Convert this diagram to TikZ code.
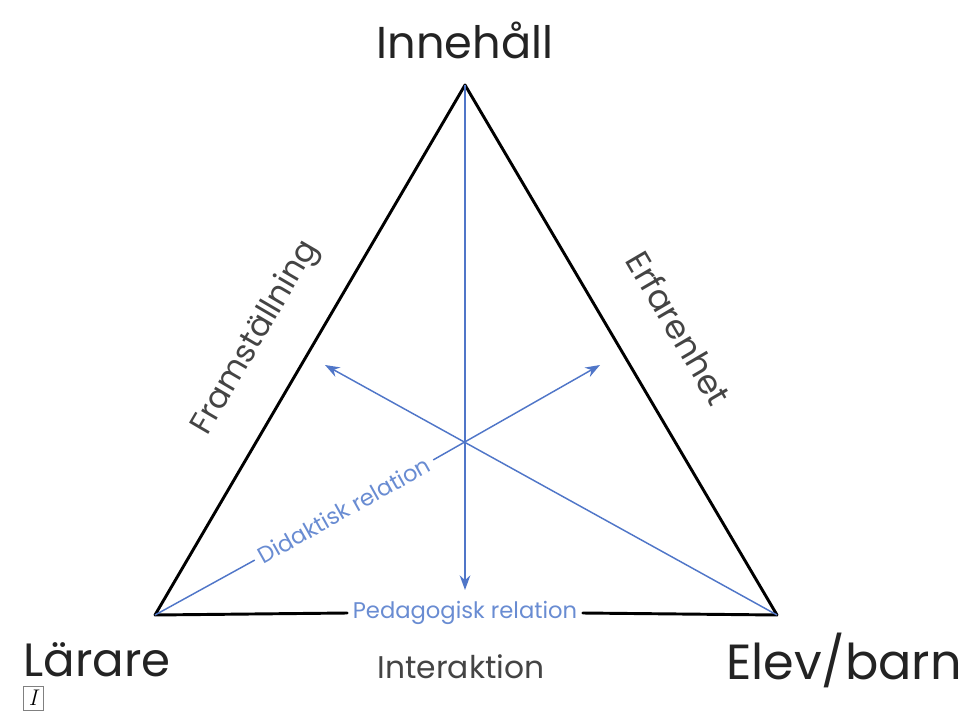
\documentclass[tikz,border=0pt]{standalone}
\usepackage{fontspec}
\setmainfont{Poppins}
\newfontfamily\lmfont{Latin Modern Roman}
\usetikzlibrary{arrows.meta}
\definecolor{relblue}{RGB}{80,118,200}
\definecolor{reltext}{RGB}{105,140,210}
\definecolor{labgray}{RGB}{35,35,35}
\tikzset{
  side/.style={line width=2.2pt, black, line cap=round, line join=round},
  rel/.style={line width=1.1pt, relblue},
  relarrow/.style={rel, -{Stealth[length=11pt, width=8pt]}},
  biglabel/.style={text=labgray, inner sep=0pt},
  midlabel/.style={text=labgray!85, inner sep=0pt},
  rellabel/.style={font=\fontsize{17}{20}\selectfont, text=reltext, inner sep=4pt},
}
\begin{document}
\begin{tikzpicture}[x=0.75pt, y=-0.75pt]
\useasboundingbox (0,0) rectangle (969,716);
\coordinate (A) at (465,85);
\coordinate (L) at (155,615);
\coordinate (E) at (777,615);
\coordinate (tipD) at (465,590);
\coordinate (tipR) at (600,365);
\coordinate (tipL) at (325,365);
% labels
\node[biglabel, font=\fontsize{33.5}{38}\selectfont] (inn) at (465,40) {Innehåll};
\node[biglabel, font=\fontsize{35}{40}\selectfont] (lar) at (97,660) {Lärare};
\node[biglabel, font=\fontsize{37}{40}\selectfont] (elev) at (844,660) {Elev/barn};
\node[midlabel, font=\fontsize{23.5}{28}\selectfont] (inter) at (461,667) {Interaktion};
\node[midlabel, font=\fontsize{24}{28}\selectfont, rotate=59.7] (fram) at (256,338) {Framställning};
\node[midlabel, font=\fontsize{25}{28}\selectfont, rotate=-59.7] (erf) at (679,328) {Erfarenhet};
\node[rellabel] (ped) at (465,613) {Pedagogisk relation};
\node[rellabel, rotate=29.3] (did) at (344,510) {Didaktisk relation};
% triangle
\draw[side] (L) -- (A) -- (E);
\draw[side] (L) -- (ped.west);
\draw[side] (ped.east) -- (E);
% relations
\draw[relarrow] (A) -- (tipD);
\draw[relarrow] (E) -- (tipL);
\draw[rel] (L) -- (did.west);
\draw[relarrow] (did.east) -- (tipR);
% small icon
\node[draw=gray, line width=0.6pt, minimum width=15pt, minimum height=18pt, inner sep=0pt, font=\lmfont\itshape\fontsize{17}{17}\selectfont] (icon) at (33,698) {I};
\end{tikzpicture}
\end{document}
